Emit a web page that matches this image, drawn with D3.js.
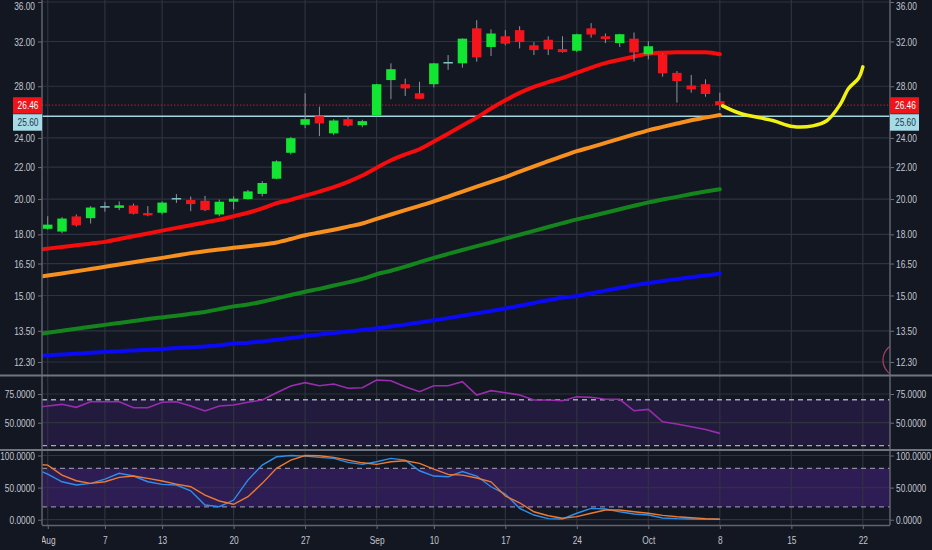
<!DOCTYPE html>
<html>
<head>
<meta charset="utf-8">
<script src="https://cdn.jsdelivr.net/npm/d3@7"></script>
<style>
  body { margin: 0; background: #131722; }
  svg { display: block; }
  text { font-family: "Liberation Sans", Arial, sans-serif; font-size: 11px; fill: #c3c6ce; }
</style>
</head>
<body>
<div id="chart"></div>
<script>
// Daily candles, trading day index 0 = Aug 1 2018 ... 47 = Oct 8 2018
var openP  = [18.30, 18.15, 18.99, 18.89, 19.58, 19.48, 19.62, 19.18, 19.20, 20.06,
              19.94, 19.90, 19.10, 19.84, 20.00, 20.31, 21.25, 22.96, 24.96, 25.61,
              24.33, 25.38, 24.93, 25.65, 28.52, 28.17, 27.42, 28.17, 30.10, 29.98,
              33.28, 31.48, 32.50, 33.10, 31.64, 32.17, 31.28, 31.13, 33.28, 32.50,
              31.85, 32.27, 30.80, 30.80, 29.14, 28.06, 28.17, 26.78];
var highP  = [19.00, 18.95, 19.10, 19.58, 19.83, 19.86, 19.73, 19.58, 19.86, 20.30,
              20.15, 20.19, 19.97, 20.16, 20.55, 21.10, 22.45, 24.07, 27.42, 26.35,
              25.38, 25.58, 25.33, 28.20, 29.98, 28.64, 28.38, 30.00, 30.73, 32.30,
              34.10, 33.18, 33.10, 33.50, 31.94, 32.50, 32.50, 32.75, 33.80, 32.77,
              32.75, 32.87, 32.03, 30.90, 29.30, 28.96, 28.58, 27.47];
var lowP   = [18.25, 18.06, 18.43, 18.59, 19.26, 19.35, 19.10, 19.00, 19.10, 19.77,
              19.29, 19.29, 19.00, 19.39, 19.96, 20.16, 21.22, 22.85, 24.71, 24.13,
              24.20, 24.83, 24.78, 25.60, 26.94, 27.20, 26.97, 27.90, 29.40, 29.60,
              30.13, 30.64, 31.64, 31.34, 30.73, 30.73, 30.95, 31.00, 32.37, 31.85,
              31.48, 30.13, 30.34, 28.81, 26.67, 27.47, 27.14, 26.08];
var closeP = [18.53, 18.87, 18.49, 19.50, 19.58, 19.63, 19.14, 19.05, 19.79, 20.06,
              19.70, 19.35, 19.84, 20.02, 20.46, 20.98, 22.38, 23.98, 25.38, 25.06,
              25.28, 24.90, 25.23, 28.17, 29.46, 27.82, 26.97, 29.98, 30.10, 32.27,
              30.52, 32.77, 31.79, 31.94, 31.19, 31.25, 31.00, 32.70, 32.67, 32.23,
              32.70, 30.97, 31.55, 29.10, 28.44, 27.74, 27.36, 26.46];

// Moving averages, RSI and stochastic start one day earlier (index -1 = Jul 31)
var maRed    = [17.18, 17.25, 17.33, 17.42, 17.51, 17.60, 17.75, 17.90, 18.05, 18.20, 18.35,
                18.50, 18.65, 18.80, 19.00, 19.20, 19.45, 19.75, 19.95, 20.20, 20.45,
                20.72, 21.05, 21.45, 21.95, 22.45, 22.85, 23.20, 23.75, 24.30, 24.90,
                25.50, 26.20, 26.85, 27.45, 27.95, 28.35, 28.70, 29.15, 29.60, 30.00,
                30.30, 30.60, 30.85, 30.95, 31.00, 31.00, 30.98, 30.80];
var maOrange = [15.82, 15.92, 16.02, 16.12, 16.23, 16.34, 16.45, 16.56, 16.67, 16.78, 16.90,
                17.02, 17.12, 17.20, 17.29, 17.37, 17.46, 17.57, 17.75, 17.95, 18.10,
                18.25, 18.42, 18.59, 18.85, 19.10, 19.35, 19.60, 19.86, 20.15, 20.45,
                20.75, 21.05, 21.35, 21.70, 22.05, 22.40, 22.73, 23.07, 23.35, 23.65,
                23.95, 24.25, 24.55, 24.80, 25.05, 25.30, 25.50, 25.70];
var maGreen  = [13.34, 13.42, 13.50, 13.58, 13.66, 13.74, 13.82, 13.90, 13.98, 14.05, 14.12,
                14.20, 14.28, 14.40, 14.52, 14.60, 14.72, 14.87, 15.02, 15.17, 15.30,
                15.45, 15.60, 15.76, 15.98, 16.15, 16.35, 16.57, 16.78, 16.98, 17.18,
                17.38, 17.57, 17.77, 17.98, 18.19, 18.40, 18.61, 18.82, 19.00, 19.20,
                19.40, 19.60, 19.80, 19.97, 20.13, 20.30, 20.45, 20.59];
var maBlue   = [12.52, 12.55, 12.58, 12.61, 12.64, 12.67, 12.70, 12.73, 12.76, 12.79, 12.82,
                12.85, 12.88, 12.93, 12.99, 13.03, 13.08, 13.14, 13.21, 13.29, 13.35,
                13.41, 13.47, 13.53, 13.60, 13.67, 13.75, 13.84, 13.93, 14.02, 14.12,
                14.22, 14.32, 14.43, 14.55, 14.67, 14.79, 14.90, 14.98, 15.10, 15.22,
                15.34, 15.46, 15.57, 15.66, 15.75, 15.84, 15.92, 16.00];
var rsi      = [63.0, 64.5, 66.0, 63.4, 68.3, 68.3, 68.3, 63.0, 63.0, 67.8, 68.3,
                64.5, 60.2, 64.5, 65.4, 67.8, 69.8, 76.1, 82.0, 84.9, 82.2,
                83.7, 80.0, 80.5, 87.2, 86.6, 81.4, 77.0, 82.2, 82.2, 85.7,
                74.1, 77.9, 76.1, 74.1, 69.8, 69.8, 69.2, 72.6, 72.1, 70.4,
                70.4, 60.4, 61.6, 50.8, 48.8, 46.4, 44.1, 40.7];
var stochK   = [80.0, 71.1, 59.1, 54.0, 56.6, 63.3, 72.2, 68.0, 59.1, 55.0, 54.0,
                45.1, 22.9, 20.2, 30.6, 61.7, 85.1, 98.0, 100.0, 99.0, 97.0,
                95.5, 89.3, 86.2, 90.2, 95.5, 92.8, 76.2, 68.0, 66.9, 75.0,
                68.0, 51.3, 40.0, 17.7, 7.3, 1.6, 1.1, 10.0, 17.7, 16.6,
                12.4, 8.9, 7.3, 2.6, 1.6, 1.1, 0.6, 0.6];
var stochD   = [86.6, 85.1, 69.5, 60.7, 56.6, 59.1, 66.0, 68.0, 64.4, 60.2, 55.5,
                51.3, 38.4, 29.1, 24.0, 35.8, 56.6, 80.0, 92.8, 100.0, 99.5,
                97.0, 92.8, 88.6, 86.2, 90.2, 91.8, 87.7, 78.8, 70.6, 69.5,
                65.0, 59.1, 36.9, 26.4, 12.4, 6.2, 2.2, 4.7, 10.0, 15.1,
                15.1, 12.4, 10.0, 6.8, 4.7, 3.1, 1.6, 0.6];

// Date axis
var dateLabels = ["Aug", "7", "13", "20", "27", "Sep", "10", "17", "24", "Oct", "8", "15", "22"];
var dateIndex  = [0, 4, 8, 13, 18, 23, 27, 32, 37, 42, 47, 52, 57];

// Value axes
var priceTicks = [12.30, 13.50, 15.00, 16.50, 18.00, 20.00, 22.00, 24.00, 28.00, 32.00, 36.00];
var rsiTicks   = [75, 50];
var rsiBand    = [30, 70];
var stochTicks = [100, 50, 0];
var stochBand  = [20, 80];

var lastPrice    = 26.46;
var supportPrice = 25.60;

// Hand drawn projection (yellow) and the stray circle at the bottom right
var sketchIndex = [47.2, 48.4, 50.7, 52.1, 53.5, 54.5, 55.4, 56.0, 56.7, 57.0];
var sketchPrice = [26.41, 25.83, 25.28, 24.83, 24.88, 25.28, 26.49, 27.82, 28.68, 29.67];
var circleIndex = [59.6];
var circlePrice = [12.37];

function chart() {
    var width = 932;
    var height = 550;
    var left = 42;
    var right = 890;

    var panels = {
        main:  { top: 0,   bottom: 375 },
        rsi:   { top: 376, bottom: 449 },
        stoch: { top: 451, bottom: 525 }
    };

    var bg = "#131722";
    var gridColor = "#2f3340";
    var lineColor = "#5f636e";

    var svg = d3.select("#chart")
                .append("svg")
                .attr("width", width)
                .attr("height", height)
                .style("background", bg);

    var x = d3.scaleLinear()
              .domain([-0.4, 58.9])
              .range([left, right]);
    var step = x(1) - x(0);

    var yPrice = d3.scaleLog()
                   .domain([12.3, 36])
                   .range([362, 2]);
    var yRsi = d3.scaleLinear()
                 .domain([50, 75])
                 .range([422.7, 394]);
    var yStoch = d3.scaleLinear()
                   .domain([0, 100])
                   .range([519.7, 455.5]);

    // clip paths for each panel
    var defs = svg.append("defs");
    Object.keys(panels).forEach(function(k) {
        defs.append("clipPath")
            .attr("id", "clip-" + k)
            .append("rect")
            .attr("x", left)
            .attr("y", panels[k].top)
            .attr("width", right - left)
            .attr("height", panels[k].bottom - panels[k].top);
    });

    // bands in the oscillator panels
    svg.append("rect")
        .attr("x", left).attr("width", right - left)
        .attr("y", yRsi(rsiBand[1]))
        .attr("height", yRsi(rsiBand[0]) - yRsi(rsiBand[1]))
        .attr("fill", "#221b3d");
    svg.append("rect")
        .attr("x", left).attr("width", right - left)
        .attr("y", yStoch(stochBand[1]))
        .attr("height", yStoch(stochBand[0]) - yStoch(stochBand[1]))
        .attr("fill", "#2e1c55");

    // vertical grid through all panels
    svg.append("g")
        .selectAll("line")
        .data(dateIndex)
        .enter()
        .append("line")
        .attr("x1", function(d) { return x(d); })
        .attr("x2", function(d) { return x(d); })
        .attr("y1", 0)
        .attr("y2", panels.stoch.bottom)
        .attr("stroke", gridColor)
        .attr("stroke-width", 1.2);

    // horizontal grid
    function hgrid(ticks, scale) {
        svg.append("g")
            .selectAll("line")
            .data(ticks)
            .enter()
            .append("line")
            .attr("x1", left)
            .attr("x2", right)
            .attr("y1", function(d) { return scale(d); })
            .attr("y2", function(d) { return scale(d); })
            .attr("stroke", gridColor)
            .attr("stroke-width", 1.2);
    }
    hgrid(priceTicks, yPrice);
    hgrid(rsiTicks, yRsi);
    hgrid(stochTicks, yStoch);

    // dashed band borders
    function dashed(values, scale, color) {
        svg.append("g")
            .selectAll("line")
            .data(values)
            .enter()
            .append("line")
            .attr("x1", left)
            .attr("x2", right)
            .attr("y1", function(d) { return scale(d); })
            .attr("y2", function(d) { return scale(d); })
            .attr("stroke", color)
            .attr("stroke-width", 1.3)
            .attr("stroke-dasharray", "5,4");
    }
    dashed(rsiBand, yRsi, "#aaa3c4");
    dashed(stochBand, yStoch, "#8e879f");

    // ---- main panel ----
    var main = svg.append("g").attr("clip-path", "url(#clip-main)");

    // support line and last price line
    main.append("line")
        .attr("x1", left).attr("x2", right)
        .attr("y1", yPrice(supportPrice)).attr("y2", yPrice(supportPrice))
        .attr("stroke", "#a3d6e0")
        .attr("stroke-width", 1.6);
    main.append("line")
        .attr("x1", left).attr("x2", right)
        .attr("y1", yPrice(lastPrice)).attr("y2", yPrice(lastPrice))
        .attr("stroke", "#c4161c")
        .attr("stroke-width", 1.3)
        .attr("stroke-dasharray", "1.3,2");

    // moving averages
    var maLine = d3.line()
                   .x(function(d, i) { return x(i - 1); })
                   .y(function(d) { return yPrice(d); })
                   .curve(d3.curveMonotoneX);
    var mas = [[maBlue, "#0a0af5"], [maGreen, "#14851c"], [maOrange, "#f7901e"], [maRed, "#f50c0c"]];
    mas.forEach(function(m) {
        main.append("path")
            .attr("d", maLine(m[0]))
            .attr("fill", "none")
            .attr("stroke", m[1])
            .attr("stroke-width", 4)
            .attr("stroke-linecap", "round");
    });

    // candles
    var candles = closeP.map(function(c, i) {
        return { i: i, o: openP[i], h: highP[i], l: lowP[i], c: c };
    });
    function candleColor(d) {
        if (d.c > d.o) return "#12e633";
        if (d.c < d.o) return "#f5141b";
        return "#7fc3c4";
    }
    var cg = main.append("g")
                 .selectAll("g")
                 .data(candles)
                 .enter()
                 .append("g");
    cg.append("line")
        .attr("x1", function(d) { return x(d.i); })
        .attr("x2", function(d) { return x(d.i); })
        .attr("y1", function(d) { return yPrice(d.h); })
        .attr("y2", function(d) { return yPrice(d.l); })
        .attr("stroke", "#8e929c")
        .attr("stroke-width", 1);
    cg.append("rect")
        .attr("x", function(d) { return x(d.i) - step * 0.33; })
        .attr("width", step * 0.66)
        .attr("y", function(d) { return yPrice(Math.max(d.o, d.c)); })
        .attr("height", function(d) {
            return Math.max(1.5, yPrice(Math.min(d.o, d.c)) - yPrice(Math.max(d.o, d.c)));
        })
        .attr("fill", candleColor);

    // yellow projection
    var sketchLine = d3.line()
                       .x(function(d) { return x(d[0]); })
                       .y(function(d) { return yPrice(d[1]); })
                       .curve(d3.curveCatmullRom);
    main.append("path")
        .attr("d", sketchLine(d3.zip(sketchIndex, sketchPrice)))
        .attr("fill", "none")
        .attr("stroke", "#f2f212")
        .attr("stroke-width", 3.5)
        .attr("stroke-linecap", "round");

    main.selectAll("circle")
        .data(d3.zip(circleIndex, circlePrice))
        .enter()
        .append("circle")
        .attr("cx", function(d) { return x(d[0]); })
        .attr("cy", function(d) { return yPrice(d[1]); })
        .attr("r", 17)
        .attr("fill", "none")
        .attr("stroke", "#a23b60")
        .attr("stroke-width", 1.3);

    // ---- RSI panel ----
    var rsiG = svg.append("g").attr("clip-path", "url(#clip-rsi)");
    var oscLine = function(scale) {
        return d3.line()
                 .x(function(d, i) { return x(i - 1); })
                 .y(function(d) { return scale(d); });
    };
    rsiG.append("path")
        .attr("d", oscLine(yRsi)(rsi))
        .attr("fill", "none")
        .attr("stroke", "#9a2cae")
        .attr("stroke-width", 1.6);

    // ---- Stochastic panel ----
    var stG = svg.append("g").attr("clip-path", "url(#clip-stoch)");
    stG.append("path")
        .attr("d", oscLine(yStoch)(stochK))
        .attr("fill", "none")
        .attr("stroke", "#2d8fea")
        .attr("stroke-width", 1.4);
    stG.append("path")
        .attr("d", oscLine(yStoch)(stochD))
        .attr("fill", "none")
        .attr("stroke", "#ee7a30")
        .attr("stroke-width", 1.4);

    // ---- axes ----
    function styleAxis(g) {
        g.select(".domain").remove();
        g.selectAll(".tick line").attr("stroke", "#6b6f7a");
        g.selectAll(".tick text").attr("fill", "#c3c6ce").style("font-size", "11px");
    }
    var fmtPrice = d3.format(".2f");
    var fmtOsc = d3.format(".4f");

    [[left, d3.axisLeft, 3], [right, d3.axisRight, 2]].forEach(function(a) {
        svg.append("g")
            .attr("transform", "translate(" + a[0] + ",0)")
            .call(a[1](yPrice).tickValues(priceTicks).tickFormat(fmtPrice).tickSize(4).tickPadding(a[2]))
            .call(styleAxis)
            // keep the top label inside the picture
            .selectAll(".tick text")
            .filter(function(d) { return yPrice(d) < 6; })
            .attr("y", function(d) { return 6 - yPrice(d); });
        svg.append("g")
            .attr("transform", "translate(" + a[0] + ",0)")
            .call(a[1](yRsi).tickValues(rsiTicks).tickFormat(fmtOsc).tickSize(4).tickPadding(a[2]))
            .call(styleAxis);
        svg.append("g")
            .attr("transform", "translate(" + a[0] + ",0)")
            .call(a[1](yStoch).tickValues(stochTicks).tickFormat(fmtOsc).tickSize(4).tickPadding(a[2]))
            .call(styleAxis);
    });

    // date axis, clipped at the left edge like the original
    defs.append("clipPath")
        .attr("id", "clip-dates")
        .append("rect")
        .attr("x", left).attr("y", panels.stoch.bottom)
        .attr("width", width - left).attr("height", height - panels.stoch.bottom);
    svg.append("g")
        .attr("clip-path", "url(#clip-dates)")
        .append("g")
        .attr("transform", "translate(0," + panels.stoch.bottom + ")")
        .call(d3.axisBottom(x)
                .tickValues(dateIndex)
                .tickFormat(function(d, i) { return dateLabels[i]; })
                .tickSize(4)
                .tickPadding(7))
        .call(styleAxis);

    // panel frame lines
    svg.append("line")
        .attr("x1", left).attr("x2", left).attr("y1", 0).attr("y2", panels.stoch.bottom)
        .attr("stroke", lineColor).attr("stroke-width", 1.5);
    svg.append("line")
        .attr("x1", right).attr("x2", right).attr("y1", 0).attr("y2", panels.stoch.bottom)
        .attr("stroke", lineColor).attr("stroke-width", 1.5);
    svg.append("line")
        .attr("x1", left).attr("x2", right)
        .attr("y1", panels.stoch.bottom + 0.5).attr("y2", panels.stoch.bottom + 0.5)
        .attr("stroke", lineColor).attr("stroke-width", 1.5);
    [panels.main.bottom + 0.5, panels.rsi.bottom + 1].forEach(function(y) {
        svg.append("line")
            .attr("x1", 0).attr("x2", width).attr("y1", y).attr("y2", y)
            .attr("stroke", "#70747f").attr("stroke-width", 1.8);
    });

    // price labels for the last price and the support line
    var yLast = yPrice(lastPrice);
    var ySupport = Math.max(yPrice(supportPrice), yLast + 17);
    var boxes = [
        { y: yLast, text: fmtPrice(lastPrice), fill: "#f0141a", color: "#ffffff" },
        { y: ySupport, text: fmtPrice(supportPrice), fill: "#a7dbe6", color: "#22384a" }
    ];
    [[13, 38.5], [890, 895]].forEach(function(side) {
        boxes.forEach(function(b) {
            svg.append("rect")
                .attr("x", side[0])
                .attr("y", b.y - 8)
                .attr("width", 29)
                .attr("height", 16.5)
                .attr("fill", b.fill);
            svg.append("text")
                .attr("x", side[1])
                .attr("y", b.y)
                .attr("dy", "0.35em")
                .attr("text-anchor", side[0] < 100 ? "end" : "start")
                .style("fill", b.color)
                .style("font-size", "11px")
                .text(b.text);
        });
    });

    // the original uses a narrow face: squeeze every label horizontally
    // around its own anchor point
    svg.selectAll("text").each(function() {
        var ax = +(this.getAttribute("x") || 0);
        d3.select(this)
            .attr("transform", "translate(" + ax + ",0) scale(0.76,1) translate(" + (-ax) + ",0)");
    });
}

window.onload = chart;
</script>
</body>
</html>
